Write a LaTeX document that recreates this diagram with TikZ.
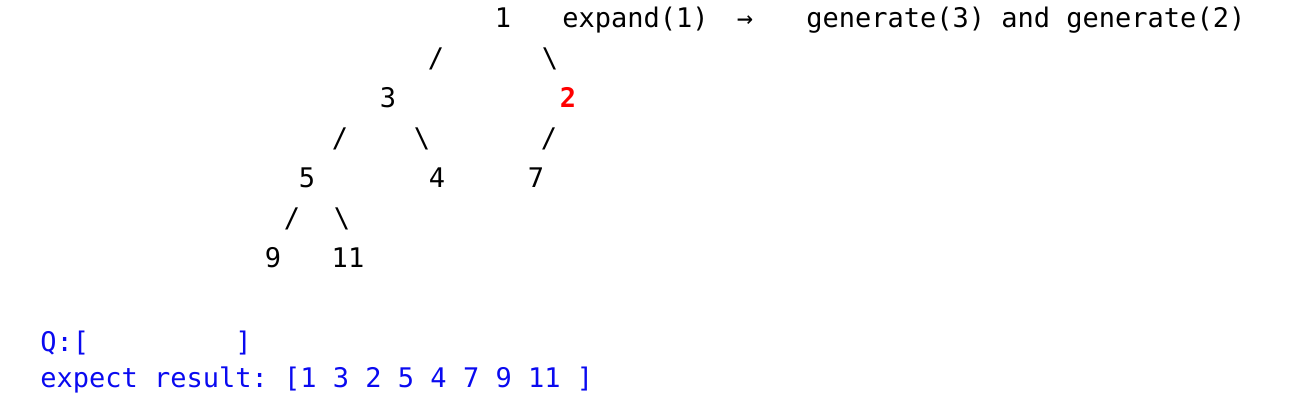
\documentclass[tikz,border=0pt]{standalone}
\usepackage{fontspec}
\setmonofont{DejaVu Sans Mono}
\definecolor{qblue}{RGB}{10,10,240}
\tikzset{
  txt/.style={font=\ttfamily\fontsize{13.5}{15}\selectfont,inner sep=0pt,anchor=base},
  line/.style={txt,anchor=base west}
}
\begin{document}
\begin{tikzpicture}[x=0.5pt,y=-0.5pt]
\useasboundingbox (0,0) rectangle (1303,400);
% tree rows
\node[txt] (n1) at (503,28) {1};
\node[line] (expand) at (562,28) {expand(1)};
\node[txt] (arrow) at (745,28) {→};
\node[line] (generate) at (806,28) {generate(3) and generate(2)};
\node[txt] (e13) at (436,68) {/};
\node[txt] (e12) at (550,68) {\textbackslash};
\node[txt] (n3) at (388,108) {3};
\node[txt,red,font=\ttfamily\bfseries\fontsize{13.5}{15}\selectfont] (n2) at (568,108) {2};
\node[txt] (e35) at (340,148) {/};
\node[txt] (e34) at (422,148) {\textbackslash};
\node[txt] (e27) at (549,148) {/};
\node[txt] (n5) at (307,188) {5};
\node[txt] (n4) at (437,188) {4};
\node[txt] (n7) at (536,188) {7};
\node[txt] (e59) at (292,228) {/};
\node[txt] (e511) at (342,228) {\textbackslash};
\node[txt] (n9) at (273,268) {9};
\node[txt] (n11) at (348,268) {11};
% queue
\node[line,qblue] (queue) at (40,352) {Q:[\ \ \ \ \ \ \ \ \ ]};
\node[line,qblue] (result) at (40,388) {expect result: [1 3 2 5 4 7 9 11 ]};
\end{tikzpicture}
\end{document}
